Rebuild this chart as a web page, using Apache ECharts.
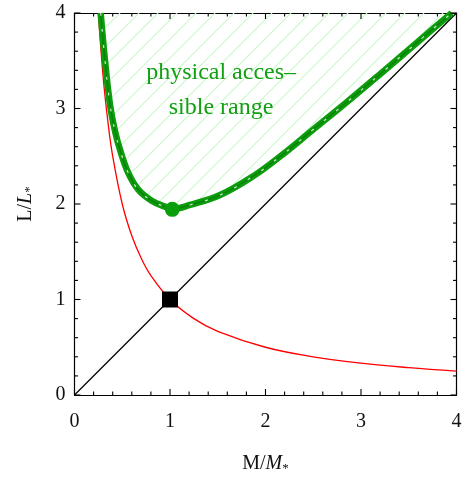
<!DOCTYPE html>
<html>
<head>
<meta charset="utf-8">
<script src="https://cdn.jsdelivr.net/npm/echarts@6/dist/echarts.min.js"></script>
<style>html,body{margin:0;padding:0;background:#fff}#c{width:475px;height:480px}</style>
</head>
<body>
<div id="c"></div>
<script>
// ---- data ----
var xTicks = [0, 1, 2, 3, 4];
var yTicks = [0, 1, 2, 3, 4];
var minorStep = 0.2;
// green boundary curve of the accessible range [M/M*, L/L*]
var greenCurve = [[0.274,4.0],[0.319,3.508],[0.372,3.04],[0.424,2.765],[0.476,2.57],[0.563,2.325],[0.668,2.15],[0.808,2.035],[0.965,1.965],[1.024,1.95],[1.209,1.99],[1.524,2.094],[1.872,2.292],[2.152,2.497],[2.50,2.78],[2.85,3.065],[3.199,3.359],[3.652,3.747],[3.95,4.0]];
// red curve
var redCurve = [[0.25,4],[0.3,3.33],[0.35,2.86],[0.4,2.5],[0.5,2],[0.6,1.667],[0.7,1.429],[0.8,1.25],[1,1],[1.25,0.8],[1.5,0.667],[2,0.5],[2.5,0.4],[3,0.333],[3.5,0.286],[4,0.25]];
// black diagonal
var diagonal = [[0,0],[4,4]];
var squarePoint = [[1,1]];
var minPoint = [[1.024,1.944]];
var labelLines = ['physical acces\u2013', 'sible range'];

// tick anchors on the frame: [x, y, length, side]  (side: 0 bottom, 1 top, 2 left, 3 right)
var tickData = [];
for (var k = 0; k <= Math.round(4 / minorStep); k++) {
  var v = Math.round(k * minorStep * 1000) / 1000;
  var len = xTicks.indexOf(v) >= 0 ? 6 : 3.5;
  tickData.push([v, 0, len, 0]);
  tickData.push([v, 4, len, 1]);
  tickData.push([0, v, len, 2]);
  tickData.push([4, v, len, 3]);
}

// hatch pattern
var tile = document.createElement('canvas');
tile.width = 19; tile.height = 19;
var g = tile.getContext('2d');
g.strokeStyle = '#c8f7c8';
g.lineWidth = 1.1;
[-19, 0, 19].forEach(function(j){
  g.beginPath(); g.moveTo(j, 19); g.lineTo(j + 19, 0); g.stroke();
});

var serif = 'Liberation Serif';
var chart = echarts.init(document.getElementById('c'));
function frameAxis(pos, showLabel) {
  return {
    type: 'value', min: 0, max: 4, interval: 1, position: pos,
    axisLine: { show: true, onZero: false, lineStyle: { color: '#000', width: 1.2 } },
    axisTick: { show: false },
    splitLine: { show: false },
    axisLabel: { show: showLabel, fontFamily: serif, fontSize: 20, color: '#111' }
  };
}
function makeRich() {
  return {
    n: { fontFamily: serif, fontSize: 20, color: '#111' },
    i: { fontFamily: serif, fontSize: 20, fontStyle: 'italic', color: '#111' },
    s: { fontFamily: serif, fontSize: 13, color: '#111', padding: [9, 0, 0, 0] }
  };
}
var xb = frameAxis('bottom', true);
xb.axisLabel.margin = 17;
xb.axisLabel.formatter = function(val){ return xTicks.indexOf(val) >= 0 ? String(val) : ''; };
xb.name = '{n|M/}{i|M}{s|*}';
xb.nameLocation = 'middle'; xb.nameGap = 58;
xb.nameTextStyle = { rich: makeRich() };
var yl = frameAxis('left', true);
yl.axisLabel.margin = 9;
yl.axisLabel.formatter = function(val){ return yTicks.indexOf(val) >= 0 ? String(val) : ''; };
yl.name = '{n|L/}{i|L}{s|*}';
yl.nameLocation = 'middle'; yl.nameGap = 38;
yl.nameTextStyle = { rich: makeRich() };

chart.setOption({
  animation: false,
  grid: { left: 74.5, top: 13, width: 382, height: 382, containLabel: false },
  xAxis: [xb, frameAxis('top', false)],
  yAxis: [yl, frameAxis('right', false)],
  series: [
    { type: 'line', data: greenCurve, smooth: 0.4, symbol: 'none', z: 2,
      lineStyle: { width: 0, color: 'transparent' },
      areaStyle: { origin: 'end', color: { image: tile, repeat: 'repeat' }, opacity: 1 } },
    { type: 'line', data: diagonal, symbol: 'none', z: 3,
      lineStyle: { color: '#000', width: 1.2 } },
    { type: 'line', data: redCurve, smooth: 0.4, symbol: 'none', z: 3,
      lineStyle: { color: '#ff0000', width: 1.3 } },
    { type: 'line', data: greenCurve, smooth: 0.4, symbol: 'none', z: 4,
      lineStyle: { color: '#0c9c0c', width: 6.5 } },
    { type: 'line', data: greenCurve, smooth: 0.4, symbol: 'none', z: 5,
      lineStyle: { color: '#067006', width: 1.4, opacity: 0.6 } },
    { type: 'line', data: greenCurve, smooth: 0.4, symbol: 'none', z: 6,
      lineStyle: { color: '#ffffff', width: 1.2, type: [3, 13], opacity: 0.8 } },
    { type: 'scatter', data: squarePoint, symbol: 'rect', symbolSize: 16, z: 7,
      itemStyle: { color: '#000', opacity: 1 } },
    { type: 'scatter', data: minPoint, symbol: 'circle', symbolSize: 15, z: 7,
      itemStyle: { color: '#0a9e0a', opacity: 1 } },
    { type: 'custom', coordinateSystem: 'cartesian2d', data: tickData, clip: false, silent: true, z: 20,
      encode: { x: 0, y: 1 },
      renderItem: function (params, api) {
        var p = api.coord([api.value(0), api.value(1)]);
        var l = api.value(2), side = api.value(3);
        var x2 = p[0], y2 = p[1];
        if (side === 0) y2 = p[1] - l;
        else if (side === 1) y2 = p[1] + l;
        else if (side === 2) x2 = p[0] + l;
        else x2 = p[0] - l;
        return { type: 'line', shape: { x1: p[0], y1: p[1], x2: x2, y2: y2 },
                 style: { stroke: '#000', lineWidth: 1.1 } };
      } }
  ]
});

// text label via data coordinates
var p1 = chart.convertToPixel({xAxisIndex: 0, yAxisIndex: 0}, [1.535, 3.37]);
var p2 = chart.convertToPixel({xAxisIndex: 0, yAxisIndex: 0}, [1.535, 3.01]);
chart.setOption({ graphic: [
  { type: 'text', x: p1[0], y: p1[1], z: 10, style: { text: labelLines[0], font: '24px "Liberation Serif"', fill: '#12a012', align: 'center', verticalAlign: 'middle' } },
  { type: 'text', x: p2[0], y: p2[1], z: 10, style: { text: labelLines[1], font: '24px "Liberation Serif"', fill: '#12a012', align: 'center', verticalAlign: 'middle' } }
]});
</script>
</body>
</html>
